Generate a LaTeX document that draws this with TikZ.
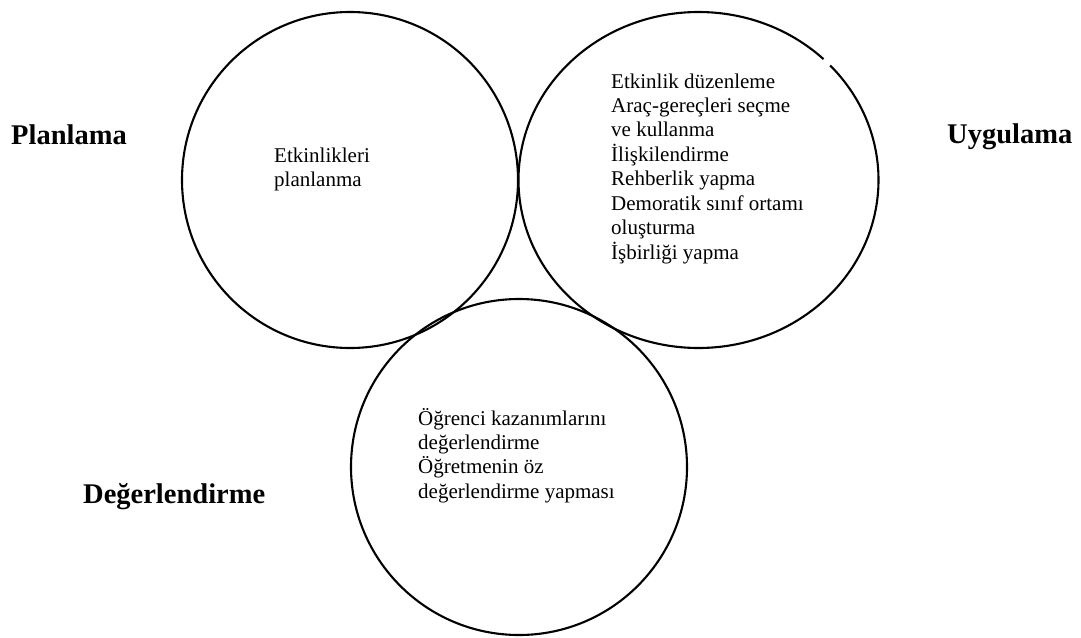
\documentclass[tikz,border=0pt]{standalone}
\usepackage{fontspec}
\setmainfont{Liberation Serif}
\tikzset{
  ring/.style={draw=black, line width=2.1pt},
  body/.style={inner sep=0pt, anchor=base west, font=\fontsize{21pt}{24.4pt}\selectfont},
  label/.style={inner sep=0pt, anchor=base west, font=\fontsize{28.5pt}{32pt}\selectfont\bfseries}
}
\begin{document}
\begin{tikzpicture}[x=1pt,y=-1pt]
\useasboundingbox (0,0) rectangle (1081,637);
% circles
\draw[ring] (350,180) circle[radius=168pt];
\draw[ring] ([shift={(46:180pt and 168pt)}]698.5,180) arc[start angle=46, end angle=403, x radius=180pt, y radius=168pt];
\draw[ring] (519,467) circle[radius=168pt];
% circle texts
\node[body] (plan) at (274,162) {\begin{tabular}[t]{@{}l@{}}Etkinlikleri\\planlanma\end{tabular}};
\node[body] (uyg) at (611,88) {\begin{tabular}[t]{@{}l@{}}Etkinlik düzenleme\\Araç-gereçleri seçme\\ve kullanma\\İlişkilendirme\\Rehberlik yapma\\Demoratik sınıf ortamı\\oluşturma\\İşbirliği yapma\end{tabular}};
\node[body] (deg) at (418,425) {\begin{tabular}[t]{@{}l@{}}Öğrenci kazanımlarını\\değerlendirme\\Öğretmenin öz\\değerlendirme yapması\end{tabular}};
% labels
\node[label] (lplan) at (11,144) {Planlama};
\node[label] (luyg) at (947,143) {Uygulama};
\node[label] (ldeg) at (83,503) {Değerlendirme};
\end{tikzpicture}
\end{document}
